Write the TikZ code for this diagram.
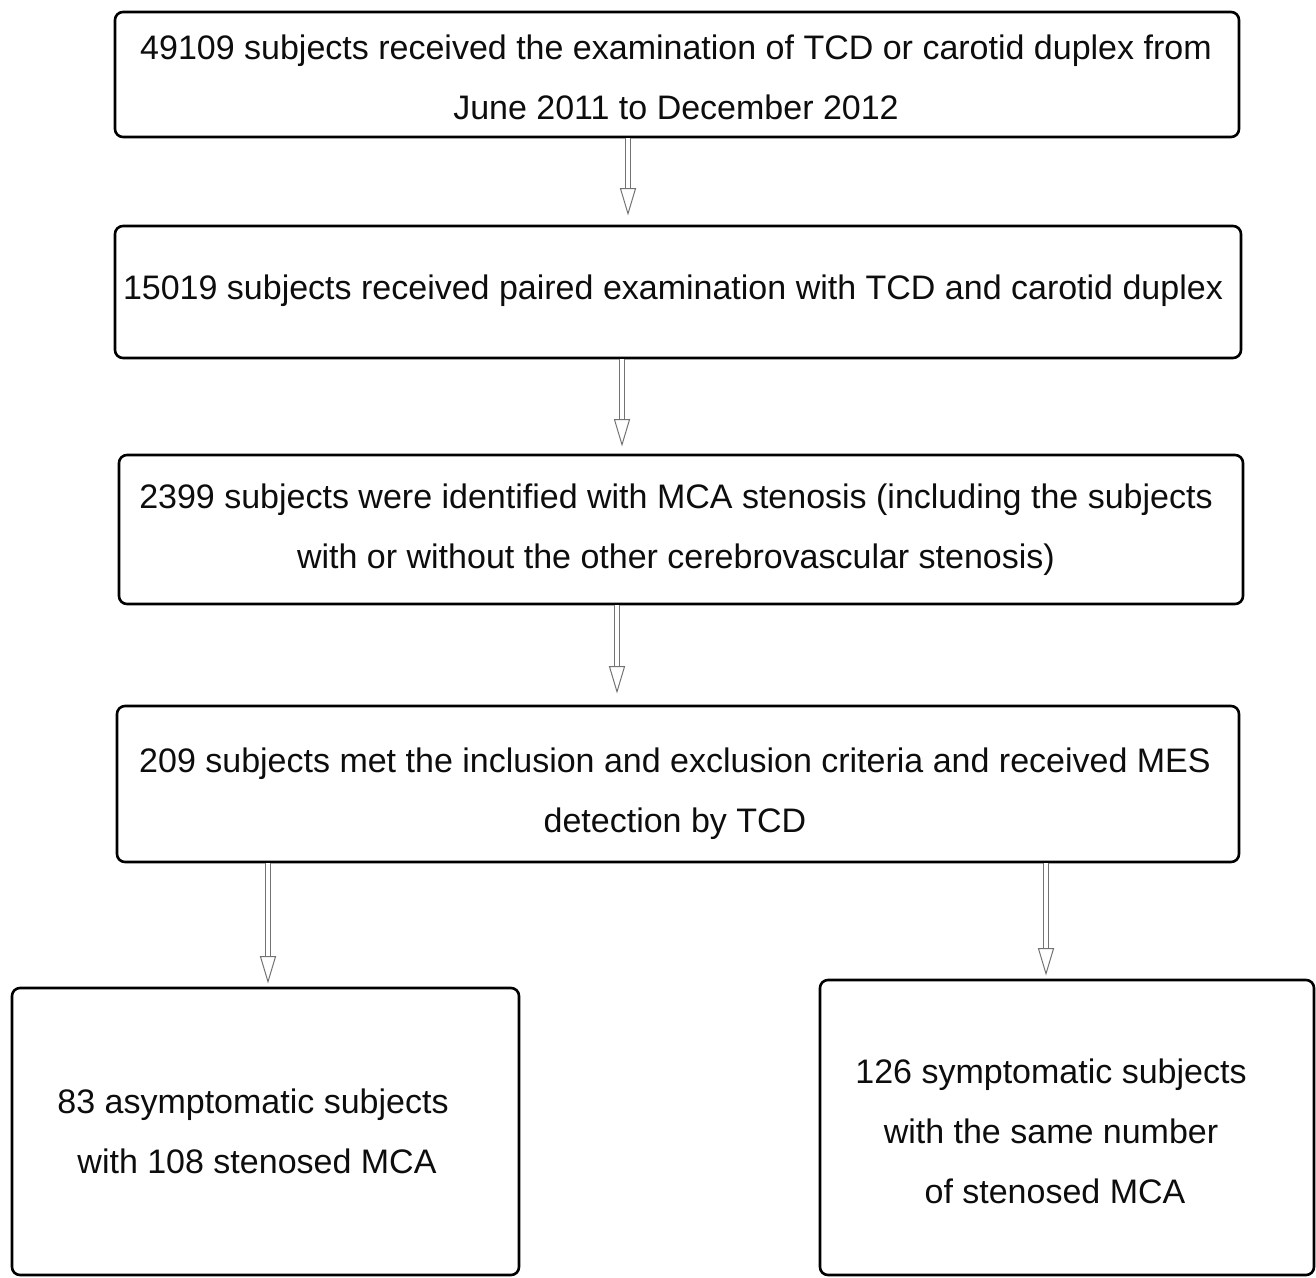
\documentclass[tikz,border=0pt]{standalone}
\usepackage{fontspec}
\setmainfont{Liberation Sans}
\usetikzlibrary{calc}
\tikzset{
  frame/.style={draw=black, line width=2.6pt, rounded corners=8pt, fill=white, inner sep=0pt},
  txt/.style={align=center, font=\fontsize{34}{60}\selectfont, text=black!95, inner sep=0pt},
  shaft/.style={draw=black!55, line width=1pt, double=white, double distance=3.5pt},
  head/.style={draw=black!55, line width=1pt, fill=white, line join=miter},
}
\newcommand{\hollowarrow}[2]{%
  \draw[shaft] (#1) -- ($(#2)+(0,-24)$);
  \draw[head] ($(#2)+(-7.5,-25)$) -- (#2) -- ($(#2)+(7.5,-25)$) -- cycle;}
\begin{document}
\begin{tikzpicture}[x=1pt,y=-1pt]
\useasboundingbox[fill=white] (0,0) rectangle (1316,1277);
% boxes
\node[frame, minimum width=1124pt, minimum height=125pt] (a) at (677,74.5) {};
\node[frame, minimum width=1126pt, minimum height=132pt] (b) at (678,292) {};
\node[frame, minimum width=1124pt, minimum height=149pt] (c) at (681,529.5) {};
\node[frame, minimum width=1122pt, minimum height=156pt] (d) at (678,784) {};
\node[frame, minimum width=507pt, minimum height=287pt] (e) at (265.5,1131.5) {};
\node[frame, minimum width=494pt, minimum height=295pt] (f) at (1067,1127.5) {};
% texts
\node[txt] (ta) at (676,77.5) {49109 subjects received the examination of TCD or carotid duplex from\\June 2011 to December 2012};
\node[txt] (tb) at (673,291) {15019 subjects received paired examination with TCD and carotid duplex};
\node[txt] (tc) at (676,530) {2399 subjects were identified with MCA stenosis (including the subjects\\with or without the other cerebrovascular stenosis)};
\node[txt] (td) at (675,794) {209 subjects met the inclusion and exclusion criteria and received MES\\detection by TCD};
\node[txt] (te) at (253,1131.5) {83 asymptomatic subjects\\\hspace*{8pt}with 108 stenosed MCA};
\node[txt] (tf) at (1051,1131.5) {126 symptomatic subjects\\with the same number\\\hspace*{8pt}of stenosed MCA};
% arrow tips
\coordinate (p1) at ($(628,0 |- b.north)+(0,-11)$);
\coordinate (p2) at ($(622,0 |- c.north)+(0,-9)$);
\coordinate (p3) at ($(617,0 |- d.north)+(0,-13)$);
\coordinate (p4) at ($(268,0 |- e.north)+(0,-5)$);
\coordinate (p5) at ($(1046,0 |- f.north)+(0,-5)$);
\hollowarrow{628,0 |- a.south}{p1}
\hollowarrow{622,0 |- b.south}{p2}
\hollowarrow{617,0 |- c.south}{p3}
\hollowarrow{268,0 |- d.south}{p4}
\hollowarrow{1046,0 |- d.south}{p5}
\end{tikzpicture}
\end{document}
